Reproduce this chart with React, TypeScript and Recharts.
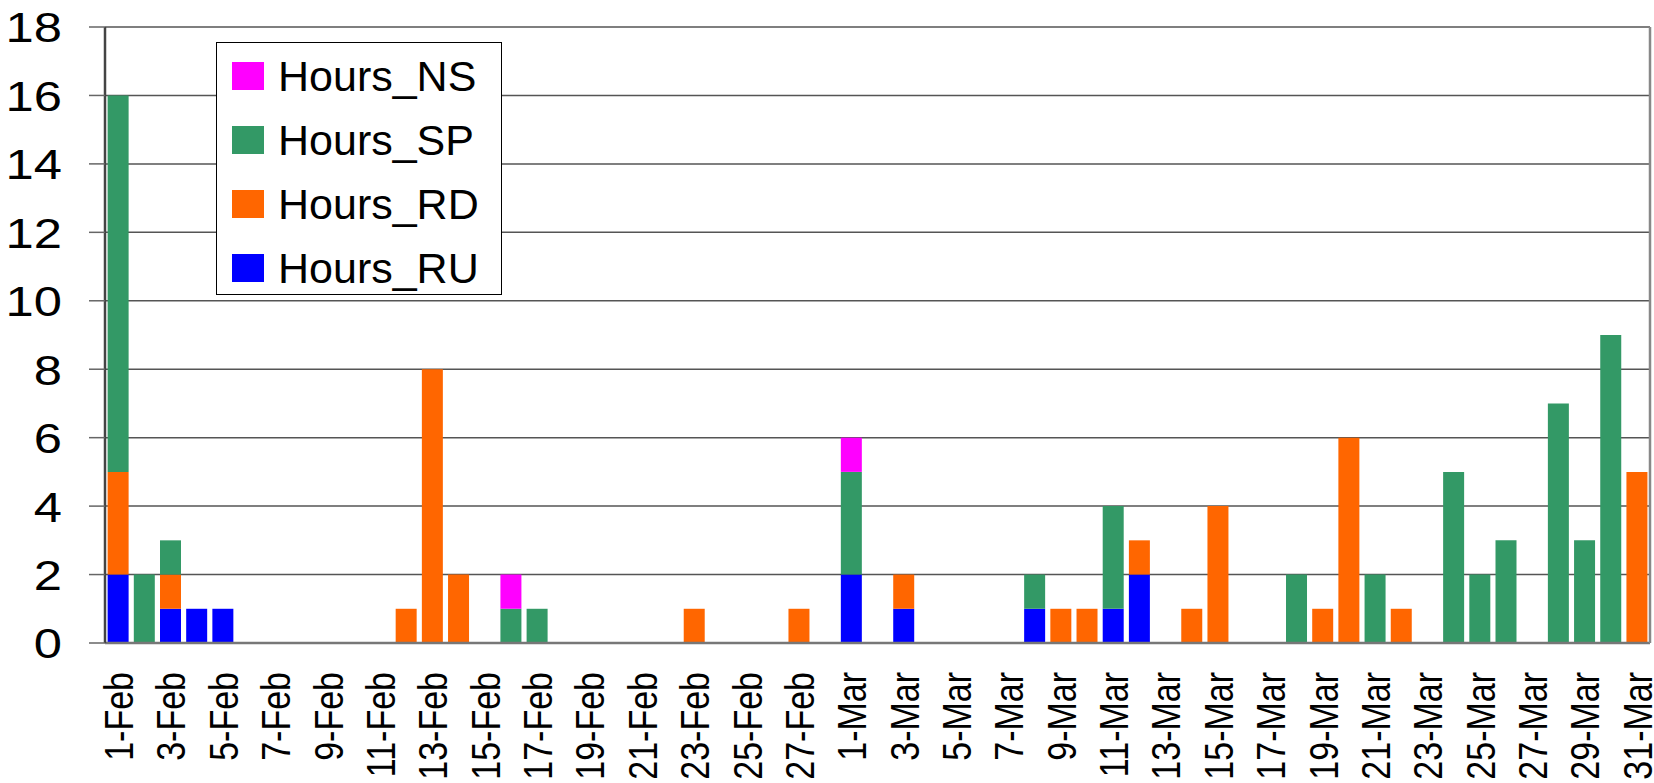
import { BarChart, Bar, XAxis, YAxis, CartesianGrid } from "recharts";

const days: string[] = [
  "1-Feb", "2-Feb", "3-Feb", "4-Feb", "5-Feb", "6-Feb", "7-Feb", "8-Feb", "9-Feb", "10-Feb",
  "11-Feb", "12-Feb", "13-Feb", "14-Feb", "15-Feb", "16-Feb", "17-Feb", "18-Feb", "19-Feb", "20-Feb",
  "21-Feb", "22-Feb", "23-Feb", "24-Feb", "25-Feb", "26-Feb", "27-Feb", "28-Feb",
  "1-Mar", "2-Mar", "3-Mar", "4-Mar", "5-Mar", "6-Mar", "7-Mar", "8-Mar", "9-Mar", "10-Mar",
  "11-Mar", "12-Mar", "13-Mar", "14-Mar", "15-Mar", "16-Mar", "17-Mar", "18-Mar", "19-Mar", "20-Mar",
  "21-Mar", "22-Mar", "23-Mar", "24-Mar", "25-Mar", "26-Mar", "27-Mar", "28-Mar", "29-Mar", "30-Mar",
  "31-Mar",
];

// February                       1  2  3  4  5  6  7  8  9 10 11 12 13 14 15 16 17 18 19 20 21 22 23 24 25 26 27 28
// March                          1  2  3  4  5  6  7  8  9 10 11 12 13 14 15 16 17 18 19 20 21 22 23 24 25 26 27 28 29 30 31
const hoursRU: number[] = [2, 0, 1, 1, 1, 0, 0, 0, 0, 0, 0, 0, 0, 0, 0, 0, 0, 0, 0, 0, 0, 0, 0, 0, 0, 0, 0, 0,
  2, 0, 1, 0, 0, 0, 0, 1, 0, 0, 1, 2, 0, 0, 0, 0, 0, 0, 0, 0, 0, 0, 0, 0, 0, 0, 0, 0, 0, 0, 0];
const hoursRD: number[] = [3, 0, 1, 0, 0, 0, 0, 0, 0, 0, 0, 1, 8, 2, 0, 0, 0, 0, 0, 0, 0, 0, 1, 0, 0, 0, 1, 0,
  0, 0, 1, 0, 0, 0, 0, 0, 1, 1, 0, 1, 0, 1, 4, 0, 0, 0, 1, 6, 0, 1, 0, 0, 0, 0, 0, 0, 0, 0, 5];
const hoursSP: number[] = [11, 2, 1, 0, 0, 0, 0, 0, 0, 0, 0, 0, 0, 0, 0, 1, 1, 0, 0, 0, 0, 0, 0, 0, 0, 0, 0, 0,
  3, 0, 0, 0, 0, 0, 0, 1, 0, 0, 3, 0, 0, 0, 0, 0, 0, 2, 0, 0, 2, 0, 0, 5, 2, 3, 0, 7, 3, 9, 0];
const hoursNS: number[] = [0, 0, 0, 0, 0, 0, 0, 0, 0, 0, 0, 0, 0, 0, 0, 1, 0, 0, 0, 0, 0, 0, 0, 0, 0, 0, 0, 0,
  1, 0, 0, 0, 0, 0, 0, 0, 0, 0, 0, 0, 0, 0, 0, 0, 0, 0, 0, 0, 0, 0, 0, 0, 0, 0, 0, 0, 0, 0, 0];

const yTicks = [0, 2, 4, 6, 8, 10, 12, 14, 16, 18];

const series = [
  { key: "ns", name: "Hours_NS", color: "#FF00FF" },
  { key: "sp", name: "Hours_SP", color: "#339966" },
  { key: "rd", name: "Hours_RD", color: "#FF6600" },
  { key: "ru", name: "Hours_RU", color: "#0000FF" },
];

const data = days.map((day, i) => ({
  day,
  ru: hoursRU[i],
  rd: hoursRD[i],
  sp: hoursSP[i],
  ns: hoursNS[i],
}));

const FONT = "'Liberation Sans', Arial, sans-serif";

function DayTick({ x, y, payload }: { x?: number; y?: number; payload?: { value: string } }) {
  return (
    <g transform={`translate(${x},${y}) scale(1.22,1) rotate(-90)`}>
      <text x={0} y={0} dy="0.36em" textAnchor="end" fontSize={34} fill="#000" fontFamily={FONT}>
        {payload?.value}
      </text>
    </g>
  );
}

function HourTick({ x, y, payload }: { x?: number; y?: number; payload?: { value: number } }) {
  return (
    <g transform={`translate(${x},${y}) scale(1.18,1)`}>
      <text x={0} y={0} dy="0.36em" textAnchor="end" fontSize={43} fill="#000" fontFamily={FONT}>
        {payload?.value}
      </text>
    </g>
  );
}

function HoursLegend() {
  return (
    <div
      style={{
        position: "absolute", left: 216, top: 42, width: 284, height: 251,
        border: "1.5px solid #000", background: "#fff", fontFamily: FONT,
      }}
    >
      {series.map((s, i) => (
        <div key={s.key} style={{ position: "absolute", left: 0, top: 33 + i * 64 - 20, height: 40, display: "flex", alignItems: "center" }}>
          <span style={{ display: "inline-block", width: 32, height: 28, marginLeft: 15, background: s.color }} />
          <span style={{ marginLeft: 14, fontSize: 43, lineHeight: "40px", color: "#000" }}>{s.name}</span>
        </div>
      ))}
    </div>
  );
}

export default function App() {
  return (
    <div style={{ position: "absolute", left: 0, top: 0, width: 1654, height: 783, background: "#fff" }}>
      <BarChart
        width={1654}
        height={783}
        data={data}
        barCategoryGap="10%"
        margin={{ top: 27, right: 0, bottom: 0, left: 0 }}
      >
        <CartesianGrid horizontal vertical={false} stroke="#555" strokeWidth={1.5} />
        <XAxis
          dataKey="day"
          interval={1}
          height={140}
          tickLine={false}
          tickSize={0}
          tickMargin={29}
          axisLine={{ stroke: "#777", strokeWidth: 2.5 }}
          tick={<DayTick />}
        />
        <YAxis
          width={105}
          domain={[0, 18]}
          ticks={yTicks}
          tickSize={16}
          tickMargin={27}
          tickLine={{ stroke: "#666", strokeWidth: 1.5 }}
          axisLine={{ stroke: "#444", strokeWidth: 2.5 }}
          tick={<HourTick />}
        />
        <YAxis
          yAxisId="border"
          orientation="right"
          width={4}
          domain={[0, 18]}
          tick={false}
          tickLine={false}
          axisLine={{ stroke: "#888", strokeWidth: 2.5 }}
        />
        <Bar dataKey="ru" name="Hours_RU" stackId="a" fill="#0000FF" isAnimationActive={false} />
        <Bar dataKey="rd" name="Hours_RD" stackId="a" fill="#FF6600" isAnimationActive={false} />
        <Bar dataKey="sp" name="Hours_SP" stackId="a" fill="#339966" isAnimationActive={false} />
        <Bar dataKey="ns" name="Hours_NS" stackId="a" fill="#FF00FF" isAnimationActive={false} />
      </BarChart>
      <HoursLegend />
    </div>
  );
}
